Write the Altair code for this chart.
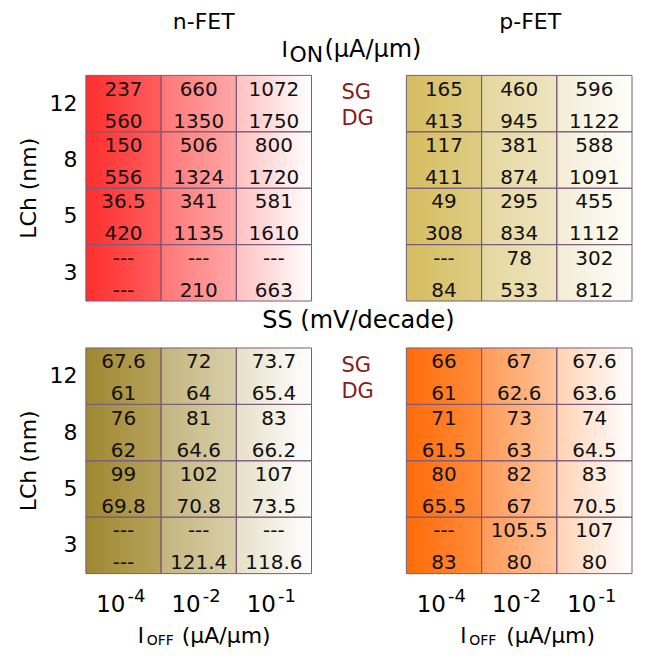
import altair as alt
import pandas as pd

# ---------------- data ----------------
lch = ["12", "8", "5", "3"]
ioff = ["10^-4", "10^-2", "10^-1"]
ioff_base = ["10", "10", "10"]
ioff_exp = ["-4", "-2", "-1"]

n_ion_sg = [["237", "660", "1072"], ["150", "506", "800"], ["36.5", "341", "581"], ["---", "---", "---"]]
n_ion_dg = [["560", "1350", "1750"], ["556", "1324", "1720"], ["420", "1135", "1610"], ["---", "210", "663"]]
p_ion_sg = [["165", "460", "596"], ["117", "381", "588"], ["49", "295", "455"], ["---", "78", "302"]]
p_ion_dg = [["413", "945", "1122"], ["411", "874", "1091"], ["308", "834", "1112"], ["84", "533", "812"]]
n_ss_sg = [["67.6", "72", "73.7"], ["76", "81", "83"], ["99", "102", "107"], ["---", "---", "---"]]
n_ss_dg = [["61", "64", "65.4"], ["62", "64.6", "66.2"], ["69.8", "70.8", "73.5"], ["---", "121.4", "118.6"]]
p_ss_sg = [["66", "67", "67.6"], ["71", "73", "74"], ["80", "82", "83"], ["---", "105.5", "107"]]
p_ss_dg = [["61", "62.6", "63.6"], ["61.5", "63", "64.5"], ["65.5", "67", "70.5"], ["83", "80", "80"]]

# ---------------- styles ----------------
FONT = "DejaVu Sans"
W = H = 226
GRID = "#7a5a78"
SGDG_COLOR = "#8b1a1a"
GRADS = {
    "n_ion": [("#ff2e2e", "#ff5e5e"), ("#ff7676", "#ffa8a8"), ("#ffc0c0", "#ffffff")],
    "p_ion": [("#d5bd5f", "#dfcc85"), ("#e5d79f", "#eee4c0"), ("#f3ecd4", "#fffffa")],
    "n_ss": [("#9f8831", "#b7a25c"), ("#c4b57f", "#d9cfa9"), ("#e6e0c8", "#ffffff")],
    "p_ss": [("#ff6c08", "#ff8c3c"), ("#ff9a58", "#ffc49a"), ("#ffd2b4", "#ffffff")],
}


def cells(sg, dg):
    rows = []
    for i, l in enumerate(lch):
        for j, c in enumerate(ioff):
            rows.append({"lch": l, "ioff": c, "sg": sg[i][j], "dg": dg[i][j]})
    return pd.DataFrame(rows)


xs = alt.Scale(domain=ioff, paddingInner=0, paddingOuter=0)
ys = alt.Scale(domain=lch, paddingInner=0, paddingOuter=0)
X = alt.X("ioff:N", scale=xs, axis=None)

one = pd.DataFrame({"k": [0]})


def label(text, x, y, size, align="left", color="black", angle=0):
    kw = dict(text=text, font=FONT, fontSize=size, align=align, baseline="alphabetic", color=color)
    if angle:
        kw["angle"] = angle
    return alt.Chart(one).mark_text(**kw).encode(x=alt.value(x), y=alt.value(y))


def panel(df, grad, left_axis, bottom_axis, extras):
    if left_axis:
        Y = alt.Y("lch:N", scale=ys, axis=alt.Axis(title=None, labelFont=FONT, labelFontSize=22,
                                                   labelColor="black", labelPadding=9, ticks=False,
                                                   domain=False, grid=False, labelAngle=0))
    else:
        Y = alt.Y("lch:N", scale=ys, axis=None)
    base = alt.Chart(df)
    layers = []
    for j, (c0, c1) in enumerate(grad):
        g = alt.LinearGradient(gradient="linear",
                               stops=[alt.GradientStop(color=c0, offset=0),
                                      alt.GradientStop(color=c1, offset=1)],
                               x1=0, x2=1, y1=0, y2=0)
        layers.append(base.transform_filter(alt.datum.ioff == ioff[j])
                      .mark_rect(fill=g).encode(x=X, y=Y))
    layers.append(base.mark_rect(filled=False, stroke=GRID, strokeWidth=1).encode(x=X, y=Y))
    layers.append(base.mark_text(font=FONT, fontSize=20, color="#111111", dy=-14)
                  .encode(x=X, y=Y, text="sg:N"))
    layers.append(base.mark_text(font=FONT, fontSize=20, color="#111111", dy=18)
                  .encode(x=X, y=Y, text="dg:N"))
    if left_axis:
        layers.append(label("LCh (nm)", -50, H / 2, 22, align="center", angle=270))
    if bottom_axis:
        tdf = pd.DataFrame({"ioff": ioff, "base": ioff_base, "exp": ioff_exp})
        layers.append(alt.Chart(tdf).mark_text(font=FONT, fontSize=23, align="right",
                                               baseline="alphabetic", dx=2)
                      .encode(x=X, y=alt.value(H + 38), text="base:N"))
        layers.append(alt.Chart(tdf).mark_text(font=FONT, fontSize=18, align="left",
                                               baseline="alphabetic", dx=4)
                      .encode(x=X, y=alt.value(H + 28), text="exp:N"))
    layers += extras
    return alt.layer(*layers).properties(width=W, height=H)


def xtitle(dx):
    return [
        label("I", 52 + dx, 295, 21),
        label("OFF", 61 + dx, 298, 14),
        label("(μA/μm)", 96 + dx + (2 if dx else 0), 295, 22),
    ]


sgdg = [label("SG", -65, 24, 21, color=SGDG_COLOR), label("DG", -65, 50, 21, color=SGDG_COLOR)]

n_ion = panel(cells(n_ion_sg, n_ion_dg), GRADS["n_ion"], True, False, [
    label("n-FET", 118, -46, 22, align="center"),
    label("I", 196, -18.7, 22),
    label("ON", 204, -13, 22),
    label("(μA/μm)", 239, -18.7, 24),
])
p_ion = panel(cells(p_ion_sg, p_ion_dg), GRADS["p_ion"], False, False, [
    label("p-FET", 124, -46, 22, align="center"),
] + sgdg)
n_ss = panel(cells(n_ss_sg, n_ss_dg), GRADS["n_ss"], True, True, [
    label("SS (mV/decade)", 273, -19.7, 24, align="center"),
] + xtitle(0))
p_ss = panel(cells(p_ss_sg, p_ss_dg), GRADS["p_ss"], False, True, sgdg + xtitle(2))

chart = alt.concat(n_ion, p_ion, n_ss, p_ss, columns=2,
                   spacing={"row": 47, "column": 95}, bounds="flush").properties(
    padding={"left": 10, "top": 3, "right": 5, "bottom": 0}
).configure_view(stroke=None)

chart.save("out.html", embed_options={"renderer": "svg", "actions": False})
